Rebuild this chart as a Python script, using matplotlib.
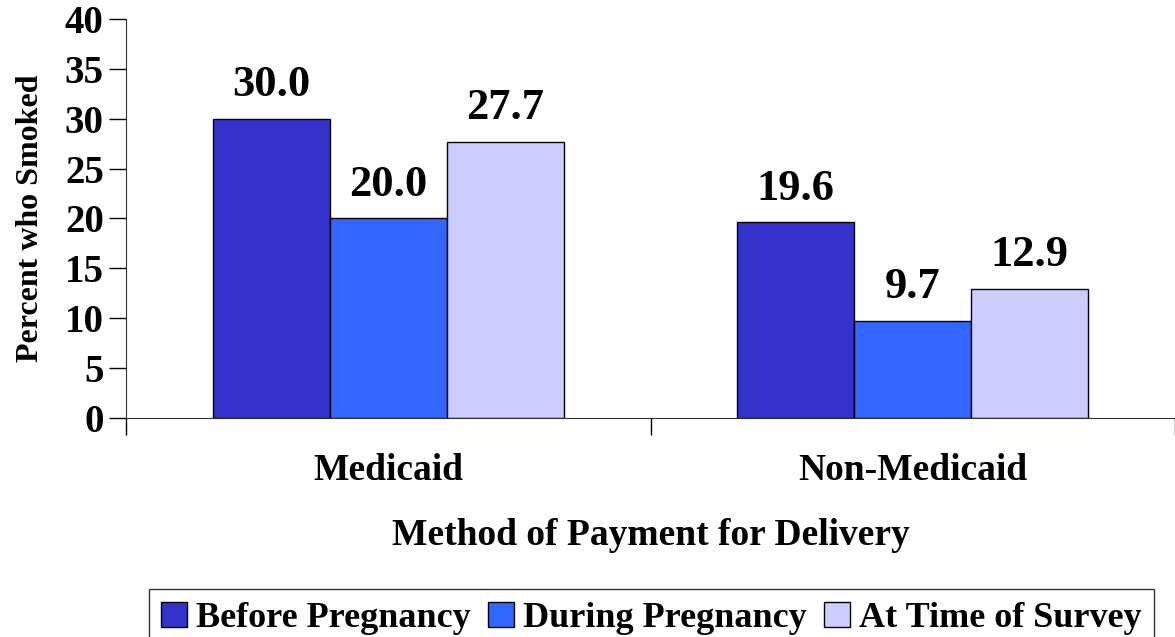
import numpy as np
import matplotlib.pyplot as plt

# data
categories = ['Medicaid', 'Non-Medicaid']
series = ['Before Pregnancy', 'During Pregnancy', 'At Time of Survey']
before = [30.0, 19.6]
during = [20.0, 9.7]
survey = [27.7, 12.9]
colors = ['#3333CC', '#3366FF', '#CCCCFF']

plt.rcParams['font.family'] = 'Liberation Serif'
plt.rcParams['font.weight'] = 'bold'

fig = plt.figure(figsize=(11.75, 6.37), dpi=100)
ax = fig.add_axes([126 / 1175, 1 - 418 / 637, 1 - 126 / 1175, (418 - 19) / 637])

x = np.arange(len(categories))
w = 0.223
for i, (vals, name) in enumerate(zip([before, during, survey], series)):
    bars = ax.bar(x + (i - 1) * w, vals, w, color=colors[i], edgecolor='black',
                  linewidth=1, label=name)
    for b, v in zip(bars, vals):
        ax.text(b.get_x() + b.get_width() / 2, v + 1.4, f'{v:.1f}',
                ha='center', va='bottom', fontsize=32, fontweight='bold')

ax.set_xlim(-0.5, 1.483)
ax.set_ylim(0, 40)
ax.set_yticks(range(0, 41, 5))
ax.set_xticks([-0.5, 0.5, 1.5], minor=False)
ax.set_xticklabels([])
ax.set_xticks(x, minor=True)
ax.set_xticklabels(categories, minor=True, fontsize=27, fontweight='bold')
ax.tick_params(axis='x', which='minor', length=0, pad=25)
ax.tick_params(axis='x', which='major', direction='out', length=12, width=1)
ax.tick_params(axis='y', direction='out', length=12, width=1, labelsize=28, pad=4)
for lab in ax.get_yticklabels():
    lab.set_fontweight('bold')

ax.spines['top'].set_visible(False)
ax.spines['right'].set_visible(False)
ax.spines['left'].set_color('#333333')
ax.spines['bottom'].set_color('#333333')

ax.set_xlabel('Method of Payment for Delivery', fontsize=27, fontweight='bold', labelpad=22)
ax.set_ylabel('Percent who Smoked', fontsize=23, fontweight='bold', labelpad=14)

leg = fig.legend(loc='lower center', bbox_to_anchor=(0.5543, -0.045), ncol=3,
                 fontsize=26, frameon=True, fancybox=False, edgecolor='black',
                 handlelength=0.7, handleheight=0.7, handletextpad=0.25,
                 columnspacing=0.5, borderpad=0.35)
leg.get_frame().set_linewidth(1)
for t in leg.get_texts():
    t.set_fontweight('bold')

fig.savefig('out.png', dpi=100)
